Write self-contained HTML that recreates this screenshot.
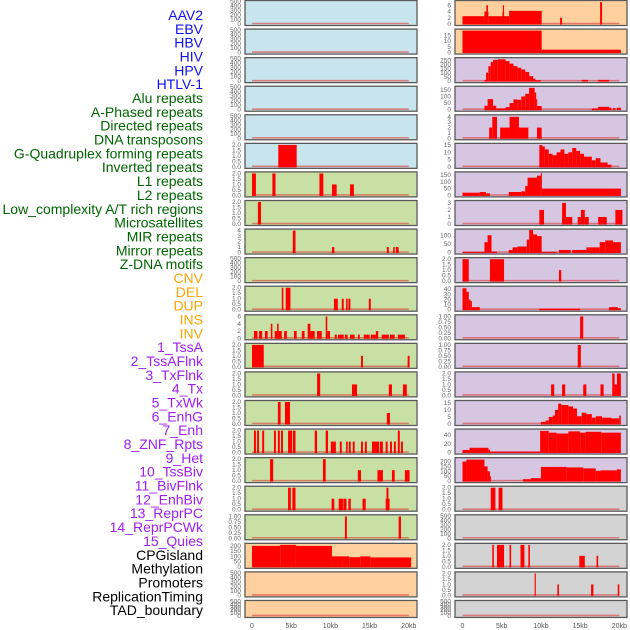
<!DOCTYPE html>
<html><head><meta charset="utf-8"><style>
body{margin:0;background:#fff;width:630px;height:630px;overflow:hidden}
svg{display:block;font-family:"Liberation Sans",sans-serif}
</style></head><body>
<svg id="c" width="630" height="630" xmlns="http://www.w3.org/2000/svg"></svg>
<script>
const labels=["AAV2","EBV","HBV","HIV","HPV","HTLV-1","Alu repeats","A-Phased repeats","Directed repeats","DNA transposons","G-Quadruplex forming repeats","Inverted repeats","L1 repeats","L2 repeats","Low_complexity A/T rich regions","Microsatellites","MIR repeats","Mirror repeats","Z-DNA motifs","CNV","DEL","DUP","INS","INV","1_TssA","2_TssAFlnk","3_TxFlnk","4_Tx","5_TxWk","6_EnhG","7_Enh","8_ZNF_Rpts","9_Het","10_TssBiv","11_BivFlnk","12_EnhBiv","13_ReprPC","14_ReprPCWk","15_Quies","CPGisland","Methylation","Promoters","ReplicationTiming","TAD_boundary"];
const labelColors=["#1010f0","#1010f0","#1010f0","#1010f0","#1010f0","#1010f0","#006400","#006400","#006400","#006400","#006400","#006400","#006400","#006400","#006400","#006400","#006400","#006400","#006400","#ffa500","#ffa500","#ffa500","#ffa500","#ffa500","#a020f0","#a020f0","#a020f0","#a020f0","#a020f0","#a020f0","#a020f0","#a020f0","#a020f0","#a020f0","#a020f0","#a020f0","#a020f0","#a020f0","#a020f0","#000","#000","#000","#000","#000"];
const xTicks=[0,5,10,15,20];
const xTickLabels=["0","5kb","10kb","15kb","20kb"];
const E=[0,100,200,300,400,500];
const T2=[0,0.5,1,1.5,2];
const T1=[0,0.25,0.5,0.75,1];
const leftBg=["#c8e4ec","#c8e4ec","#c8e4ec","#c8e4ec","#c8e4ec","#c8e4ec","#c9e0a5","#c9e0a5","#c9e0a5","#c9e0a5","#c9e0a5","#c9e0a5","#c9e0a5","#c9e0a5","#c9e0a5","#c9e0a5","#c9e0a5","#c9e0a5","#c9e0a5","#fdd09e","#fdd09e","#fdd09e"];
const rightBg=["#fdd09e","#fdd09e","#d6c6e2","#d6c6e2","#d6c6e2","#d6c6e2","#d6c6e2","#d6c6e2","#d6c6e2","#d6c6e2","#d6c6e2","#d6c6e2","#d6c6e2","#d6c6e2","#d6c6e2","#d6c6e2","#d6c6e2","#d3d3d3","#d3d3d3","#d3d3d3","#d3d3d3","#d3d3d3"];
const leftMax=[500,500,500,500,500,2.05,2.05,2.05,4.1,500,2.05,6.2,2.05,2.05,2.05,2.05,2.05,2.05,1.03,215,500,500];
const leftTicks=[E,E,E,E,E,T2,T2,T2,[0,1,2,3,4],E,T2,[0,2,4,6],T2,T2,T2,T2,T2,T2,T1,[0,50,100,150,200],E,E];
const leftData=[[],[],[],[],[],
[[3.35,5.7,2]],
[[0,0.5,2],[2.6,3.0,2],[8.6,9.1,2],[10.2,10.8,1],[12.5,13,1]],
[[0.75,1.15,2]],
[[5.2,5.55,4],[10.2,10.5,1],[17.2,17.45,1],[18,18.2,1],[18.35,18.7,1]],
[],
[[3.8,4.0,2],[4.3,4.9,2],[10.45,10.95,1],[11.45,11.7,1],[12,12.2,1],[12.3,12.55,1],[14.9,15.15,1]],
[[0.25,0.7,2],[0.9,1.3,2],[1.65,2.0,2],[2.4,2.6,4],[2.9,3.8,2],[3.2,3.4,4],[4.1,4.45,2],[5.35,5.7,2],[6.35,6.7,2],[7.1,7.45,4],[7.45,8,2],[8.3,8.6,2],[8.6,8.9,2],[9.4,9.6,6],[9.6,9.95,2],[10.55,10.8,1],[10.95,11.7,1],[11.85,12.2,1],[12.5,13.1,1],[13.5,13.75,1],[14.25,15,1],[15.15,15.8,1],[15.8,16.1,2],[16.55,17.45,1],[17.6,18.2,1],[18.6,19.5,1]],
[[0,1.5,2],[13.9,14.15,1],[19.85,20.1,1]],
[[8.3,8.7,2],[12.75,13.4,1],[17.45,17.85,1],[19.25,19.75,1]],
[[3.3,3.65,2],[4.2,4.85,2],[17.2,17.6,1]],
[[0.25,0.5,2],[0.65,0.9,2],[1.3,1.55,2],[2.8,3.05,2],[3.3,3.55,2],[3.7,3.95,2],[4.6,5.1,2],[5.2,5.55,2],[8.0,8.3,2],[9.4,9.7,2],[10.05,10.7,1],[11.2,11.45,1],[12,12.2,1],[12.35,12.6,1],[12.85,13.1,1],[13.9,14.15,1],[14.4,14.65,1],[15.3,16.2,1],[16.3,16.7,1],[17.05,17.3,1],[17.6,17.85,1],[18.1,18.35,1],[18.6,18.85,2],[19,19.25,1]],
[[2.3,2.7,2],[9.05,9.4,2],[13.5,13.9,1],[16,16.7,1],[17.85,18.2,1],[19.5,20.1,1]],
[[4.6,4.95,2],[5.15,5.55,2],[10.15,10.5,1],[11.05,11.6,1],[11.65,12.05,1],[12.3,12.6,1],[14.1,14.5,1],[17.05,17.55,1],[17.15,17.4,2]],
[[11.85,12.1,1],[18.7,19,1]],
[[0,3.6,200],[3.6,5.6,210],[5.6,10.2,200],[10.2,11.6,100],[11.6,12.4,100],[12.4,13.8,92],[13.8,15.1,100],[15.1,20.3,90]],
[],[]];
const rightMax=[7.2,19.5,270,170,4.2,15.5,165,3.2,130,2.05,44,1.03,1.03,2.05,16,52,230,2.05,500,2.05,2.05,500];
const rightTicks=[[0,2,4,6],[0,5,10,15],[0,50,100,150,200,250],[0,50,100,150],[0,1,2,3,4],[0,5,10,15],[0,50,100,150],[0,1,2,3],[0,50,100],T2,[0,10,20,30,40],T1,T1,T2,[0,5,10,15],[0,20,40],[0,50,100,150,200],T2,E,T2,T2,E];
const rightData=[
[[0,2.8,2.5],[2.8,3.3,4],[3.05,3.25,6],[3.3,5.1,2.5],[5.1,5.3,4],[5.15,5.3,6],[5.3,5.95,2.5],[5.95,10.1,4.2],[12.45,12.7,2],[17.55,17.8,7]],
[[0,10.1,19],[10.1,20.2,2.5]],
[[2.8,3.0,15],[3.0,3.3,100],[3.3,3.6,180],[3.6,3.9,230],[3.9,4.5,255],[4.5,5.5,262],[5.5,6,240],[6,6.5,210],[6.5,7,180],[7,7.5,160],[7.5,8,140],[8,8.5,110],[8.5,9,60],[9,9.3,30],[9.3,10,12],[15.2,16,15],[17.3,18.7,15]],
[[2.8,3.2,30],[3.2,3.9,80],[3.9,4.3,30],[4.3,5.5,10],[5.5,6,20],[6,6.5,50],[6.5,7,78],[7,7.5,75],[7.5,8,100],[8,8.5,120],[8.5,9.2,165],[9.2,9.4,130],[9.4,9.5,80],[9.5,10.1,28],[16.5,17.3,10],[17.3,18.7,22],[18.7,19,15],[19.2,19.5,12],[19.7,20.2,15]],
[[3.4,3.8,2],[3.8,4.4,4],[4.8,6,2],[6,7.2,4],[7.2,8.4,2],[9.5,10.1,2]],
[[9.8,10.2,15],[10.2,10.5,14],[10.5,11,12],[11,11.5,9],[11.5,12,8],[12,12.5,10],[12.5,13,12],[13,13.5,9],[13.5,14,10],[14,14.5,13],[14.5,15,11],[15,15.5,9],[15.5,16.5,7],[16.5,17,4.5],[17,17.6,6],[17.6,18.5,3],[18.5,19,1.5]],
[[0,2.2,20],[2.2,3,25],[3,3.5,15],[5.9,7.5,25],[7.5,8,30],[8,8.3,70],[8.3,9.5,130],[9.5,10,145],[10,10.1,165],[10.1,20.2,50]],
[[9.8,10.4,2],[12.7,13.2,3],[13.2,14,1],[14.7,15.1,1],[15.1,15.6,2],[15.6,16.1,1],[17.3,18.4,1],[19.5,20.4,2]],
[[0,2.8,3],[2.8,3.2,60],[3.2,3.7,100],[3.7,4.4,5],[5.9,6.4,15],[6.4,7,30],[7,8.2,35],[8.2,8.5,75],[8.5,9,130],[9,9.5,105],[9.5,10.1,95],[10.1,12,3],[12.3,13.8,15],[14,15.8,15],[15.8,17.5,30],[17.5,18.2,60],[18.2,19.2,70],[19.2,20.2,60]],
[[0,0.8,2],[3.5,5.3,2],[12.3,12.6,1]],
[[0,0.5,42],[0.5,0.8,35],[0.8,1,20],[1,1.2,17],[1.2,2.2,5],[9.8,15,2],[18.7,19.8,5],[19.8,20.2,3]],
[[15,15.4,1]],
[[14.7,15.1,1]],
[[11.3,11.7,1],[12.7,13.1,1],[15.4,15.8,1],[17.6,18,1],[19.1,19.4,2],[19.4,19.7,1],[19.7,20.2,2]],
[[10,10.6,1.5],[10.6,11,2.5],[11,11.5,5],[11.5,11.8,6],[11.8,12.2,10],[12.2,12.6,14.5],[12.6,13.5,13.5],[13.5,14.1,12.5],[14.1,14.6,11],[14.6,15.2,5.5],[15.2,15.8,8],[15.8,16.5,7],[16.5,17,4.5],[17,17.8,5.5],[17.8,19,4.5],[19,20,4],[20,20.2,6]],
[[0,0.9,6],[0.9,3.3,11],[3.3,3.5,7],[3.5,9.9,2],[9.9,11,50],[11,12,46],[12,13.5,44],[13.5,15,49],[15,15.7,46],[15.7,17.7,48],[17.7,20.2,46]],
[[0,0.5,200],[0.5,2.8,220],[2.8,3.2,150],[3.2,3.5,100],[3.5,3.6,50],[7.7,8.7,20],[8.7,10,30],[10,13.3,145],[13.3,15.4,140],[15.4,17,130],[17,17.6,105],[17.6,19.7,110],[19.7,20.2,120]],
[[3.6,4.2,2],[4.6,5.1,2]],
[],
[[3.8,4.0,2],[4.4,5.3,2],[6.0,6.2,2],[7.4,7.9,2],[8.4,8.6,2],[14.9,15.6,1],[17.1,17.3,1]],
[[9.2,9.35,2],[12.1,12.3,1],[16.4,16.7,1],[19.8,20.0,1]],
[]];
const NS="http://www.w3.org/2000/svg";
const svg=document.getElementById('c');
function mk(t,a,p){const e=document.createElementNS(NS,t);for(const k in a)e.setAttribute(k,a[k]);(p||svg).appendChild(e);return e;}
// labels
labels.forEach((l,i)=>{
 const t=mk('text',{x:203,y:20+i*13.84,'text-anchor':'end','font-size':14,fill:labelColors[i]});
 
 
 t.textContent=l;
});
function fmt(v,ticks){const st=ticks.length>1?ticks[1]-ticks[0]:1;if(st===0.25)return v.toFixed(2);if(st===0.5)return v.toFixed(1);return String(v);}
function panel(x0,z0,i,bg,ymax,ticks,data,side){
 const top=0.5+i*28.57, h=i===21?17:25;
 const g=mk('g',{});
 
 
 const r=mk('rect',{x:x0,y:top,width:172,height:h,fill:bg,stroke:'#5a5a5a','stroke-width':1.3},g);
 
 
 const zeroY=top+h-1.5, span=h-2.5;
 const ys=v=>zeroY-v/ymax*span;
 const xs=k=>z0+k*7.84;
 ticks.forEach(v=>{
  const t=mk('text',{x:x0-4,y:ys(v)+2,'text-anchor':'end','font-size':6.5,fill:'#666'},g);
  
  
  t.textContent=fmt(v,ticks);
 });
 const bl=mk('line',{x1:xs(0),x2:xs(20),y1:zeroY-0.5,y2:zeroY-0.5,stroke:'rgba(220,60,60,0.6)','stroke-width':1.6},g);
 
 
 data.forEach(d=>{
  const y=ys(Math.min(d[2],ymax));
  const b=mk('rect',{x:xs(d[0]),y:y,width:Math.max(1,xs(d[1])-xs(d[0])),height:zeroY-y+0.5,fill:'#ff0000'},g);
  
  
 });
}
for(let i=0;i<22;i++){
 panel(245,252,i,leftBg[i],leftMax[i],leftTicks[i],leftData[i],'left');
 panel(455,462.5,i,rightBg[i],rightMax[i],rightTicks[i],rightData[i],'right');
}
[[252],[462.5]].forEach((z,j)=>{
 xTicks.forEach((k,n)=>{
  const t=mk('text',{x:z[0]+k*7.84,y:628,'text-anchor':'middle','font-size':7,fill:'#555'});
  
  
  t.textContent=xTickLabels[n];
 });
});
</script>
</body></html>
